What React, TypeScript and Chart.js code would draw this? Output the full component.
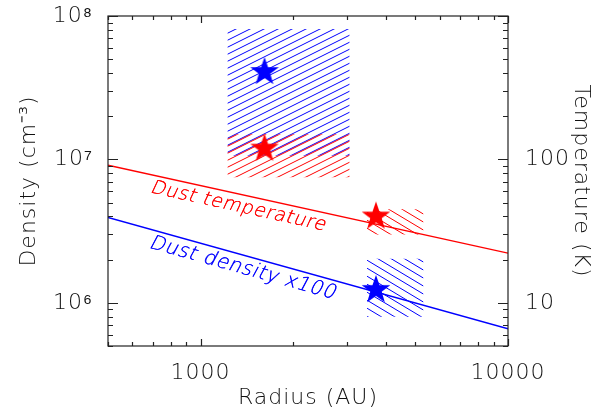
import React, { useEffect, useRef } from 'react';
import { Chart, registerables } from 'chart.js';

Chart.register(...registerables);

// ---- data ----
const lineRadius = [500, 10000];
const dustTemperature = [91, 22.2];
const dustDensityX100 = [3.94e6, 0.66e6];

const starRadius = [1615, 3720];
const starDensity = [4.07e7, 1.23e6];
const starTemperature = [119, 40];

const boxRadiusLow = [1225, 3480];
const boxRadiusHigh = [3050, 5300];
const boxDensityLow = [1.06e7, 0.8e6];
const boxDensityHigh = [8.1e7, 2.03e6];
const boxTemperatureLow = [75, 30];
const boxTemperatureHigh = [150, 45];

const xTickValues = [1000, 10000];
const densityTickValues = [1e6, 1e7, 1e8];
const densityTickLabels = ['10⁶', '10⁷', '10⁸'];
const temperatureTickValues = [10, 100];
const temperatureTickLabels = ['10', '100'];

const lineLabels = ['Dust temperature', 'Dust density x100'];
const lineLabelRadius = [720, 720];

const RED = 'rgb(255,0,0)';
const BLUE = 'rgb(0,0,255)';
const TEXT = '#111';
const FAMILY = "'DejaVu Sans', 'Liberation Sans', sans-serif";
const AXIS_FONT = { family: FAMILY, size: 22, weight: '200' as any };

function makeStar(color: string, R: number) {
  const c = document.createElement('canvas');
  const s = Math.ceil(R * 2 + 2);
  c.width = s;
  c.height = s;
  const g = c.getContext('2d')!;
  g.fillStyle = color;
  g.beginPath();
  const cx = s / 2;
  const cy = s / 2;
  const r = R * 0.4;
  for (let i = 0; i < 10; i++) {
    const rad = i % 2 === 0 ? R : r;
    const a = -Math.PI / 2 + (i * Math.PI) / 5;
    const px = cx + rad * Math.cos(a);
    const py = cy + rad * Math.sin(a);
    if (i === 0) g.moveTo(px, py);
    else g.lineTo(px, py);
  }
  g.closePath();
  g.fill();
  return c;
}

function hatch(
  ctx: CanvasRenderingContext2D,
  x0: number, y0: number, x1: number, y1: number,
  color: string, slope: number, spacing: number, offset: number
) {
  const left = Math.min(x0, x1), right = Math.max(x0, x1);
  const top = Math.min(y0, y1), bottom = Math.max(y0, y1);
  ctx.save();
  ctx.beginPath();
  ctx.rect(left, top, right - left, bottom - top);
  ctx.clip();
  ctx.strokeStyle = color;
  ctx.lineWidth = 1;
  const cs = [top + slope * left, top + slope * right, bottom + slope * left, bottom + slope * right];
  const cmin = Math.min(...cs), cmax = Math.max(...cs);
  ctx.beginPath();
  for (let k = Math.floor((cmin - offset) / spacing) - 1; k <= Math.ceil((cmax - offset) / spacing) + 1; k++) {
    const c = k * spacing + offset;
    ctx.moveTo(left - 2, c - slope * (left - 2));
    ctx.lineTo(right + 2, c - slope * (right + 2));
  }
  ctx.stroke();
  ctx.restore();
}

function logMinorValues(min: number, max: number) {
  const out: number[] = [];
  for (let e = Math.floor(Math.log10(min)); e <= Math.ceil(Math.log10(max)); e++) {
    for (let m = 1; m <= 9; m++) {
      const v = m * Math.pow(10, e);
      if (v >= min * 0.999 && v <= max * 1.001) out.push(v);
    }
  }
  return out;
}

const decorPlugin = {
  id: 'decor',
  beforeDraw(chart: any) {
    chart.ctx.letterSpacing = '1px';
  },
  beforeDatasetsDraw(chart: any) {
    const ctx = chart.ctx as CanvasRenderingContext2D;
    const xs = chart.scales.x, yd = chart.scales.yD, yt = chart.scales.yT;
    hatch(ctx, xs.getPixelForValue(boxRadiusLow[0]), yd.getPixelForValue(boxDensityLow[0]),
      xs.getPixelForValue(boxRadiusHigh[0]), yd.getPixelForValue(boxDensityHigh[0]), BLUE, 0.5, 7, 0);
    hatch(ctx, xs.getPixelForValue(boxRadiusLow[0]), yt.getPixelForValue(boxTemperatureLow[0]),
      xs.getPixelForValue(boxRadiusHigh[0]), yt.getPixelForValue(boxTemperatureHigh[0]), RED, 0.5, 7, 1);
    hatch(ctx, xs.getPixelForValue(boxRadiusLow[1]), yd.getPixelForValue(boxDensityLow[1]),
      xs.getPixelForValue(boxRadiusHigh[1]), yd.getPixelForValue(boxDensityHigh[1]), BLUE, -0.6, 8, 0);
    hatch(ctx, xs.getPixelForValue(boxRadiusLow[1]), yt.getPixelForValue(boxTemperatureLow[1]),
      xs.getPixelForValue(boxRadiusHigh[1]), yt.getPixelForValue(boxTemperatureHigh[1]), RED, -0.6, 8, 0);
  },
  afterDatasetsDraw(chart: any) {
    const ctx = chart.ctx as CanvasRenderingContext2D;
    const xs = chart.scales.x, yd = chart.scales.yD, yt = chart.scales.yT;
    const specs = [
      { scale: yt, vals: dustTemperature, color: RED, size: 19 },
      { scale: yd, vals: dustDensityX100, color: BLUE, size: 20 },
    ];
    specs.forEach((s, i) => {
      const xa = xs.getPixelForValue(lineRadius[0]);
      const ya = s.scale.getPixelForValue(s.vals[0]);
      const xb = xs.getPixelForValue(lineRadius[1]);
      const yb = s.scale.getPixelForValue(s.vals[1]);
      const ang = Math.atan2(yb - ya, xb - xa);
      const px = xs.getPixelForValue(lineLabelRadius[i]);
      const t = (px - xa) / (xb - xa);
      const py = ya + t * (yb - ya);
      ctx.save();
      ctx.letterSpacing = '0.6px';
      ctx.translate(px, py);
      ctx.rotate(ang);
      ctx.transform(1, 0, -0.22, 1, 0, 0);
      ctx.font = `200 ${s.size}px ${FAMILY}`;
      ctx.fillStyle = s.color;
      ctx.textAlign = 'left';
      ctx.textBaseline = 'top';
      ctx.fillText(lineLabels[i], 0, 3);
      ctx.fillText(lineLabels[i], 0.3, 3);
      ctx.restore();
    });
  },
  afterDraw(chart: any) {
    const ctx = chart.ctx as CanvasRenderingContext2D;
    const { left, right, top, bottom } = chart.chartArea;
    const xs = chart.scales.x, yd = chart.scales.yD, yt = chart.scales.yT;
    ctx.save();
    ctx.letterSpacing = '0px';
    ctx.strokeStyle = '#222';
    ctx.lineWidth = 1.2;
    ctx.strokeRect(left, top, right - left, bottom - top);
    ctx.beginPath();
    const isMajor = (v: number) => Math.abs(Math.log10(v) - Math.round(Math.log10(v))) < 1e-6;
    logMinorValues(xs.min, xs.max).forEach((v) => {
      const p = Math.round(xs.getPixelForValue(v)) + 0.5;
      const len = isMajor(v) ? 7 : 4;
      ctx.moveTo(p, bottom); ctx.lineTo(p, bottom - len);
      ctx.moveTo(p, top); ctx.lineTo(p, top + len);
    });
    logMinorValues(yd.min, yd.max).forEach((v) => {
      const p = Math.round(yd.getPixelForValue(v)) + 0.5;
      const len = isMajor(v) ? 10 : 5;
      ctx.moveTo(left, p); ctx.lineTo(left + len, p);
    });
    logMinorValues(yt.min, yt.max).forEach((v) => {
      const p = Math.round(yt.getPixelForValue(v)) + 0.5;
      const len = isMajor(v) ? 10 : 5;
      ctx.moveTo(right, p); ctx.lineTo(right - len, p);
    });
    ctx.stroke();
    ctx.restore();
    ctx.letterSpacing = '0px';
  },
};

function labelFor(values: number[], labels: string[], v: number) {
  const i = values.findIndex((x) => Math.abs(x - v) / x < 1e-6);
  return i >= 0 ? labels[i] : '';
}

export default function App() {
  const ref = useRef<HTMLCanvasElement | null>(null);
  useEffect(() => {
    if (!ref.current) return;
    const blueStar = makeStar(BLUE, 15);
    const redStar = makeStar(RED, 15);
    const chart = new Chart(ref.current, {
      type: 'line',
      data: {
        datasets: [
          {
            label: 'Density stars',
            data: starRadius.map((r, i) => ({ x: r, y: starDensity[i] })),
            yAxisID: 'yD',
            showLine: false,
            pointStyle: blueStar as any,
            pointRadius: 15,
            borderColor: BLUE,
            backgroundColor: BLUE,
          },
          {
            label: 'Temperature stars',
            data: starRadius.map((r, i) => ({ x: r, y: starTemperature[i] })),
            yAxisID: 'yT',
            showLine: false,
            pointStyle: redStar as any,
            pointRadius: 15,
            borderColor: RED,
            backgroundColor: RED,
          },
          {
            label: 'Dust temperature',
            data: lineRadius.map((r, i) => ({ x: r, y: dustTemperature[i] })),
            yAxisID: 'yT',
            borderColor: RED,
            borderWidth: 1.4,
            pointRadius: 0,
            tension: 0,
          },
          {
            label: 'Dust density x100',
            data: lineRadius.map((r, i) => ({ x: r, y: dustDensityX100[i] })),
            yAxisID: 'yD',
            borderColor: BLUE,
            borderWidth: 1.4,
            pointRadius: 0,
            tension: 0,
          },
        ],
      },
      options: {
        responsive: false,
        animation: false,
        events: [],
        layout: { padding: { top: 12, left: 0, right: 0, bottom: 0 } },
        plugins: { legend: { display: false }, tooltip: { enabled: false } },
        scales: {
          x: {
            type: 'logarithmic',
            position: 'bottom',
            min: 500,
            max: 10000,
            grid: { display: false },
            border: { display: false },
            afterBuildTicks: (s: any) => { s.ticks = xTickValues.map((v) => ({ value: v })); },
            afterFit: (s: any) => { s.height = 68; s.paddingLeft = 0; s.paddingRight = 0; },
            ticks: {
              autoSkip: false, maxRotation: 0, minRotation: 0, padding: 6,
              color: TEXT, font: AXIS_FONT,
              callback: (v: any) => String(v),
            },
            title: { display: true, text: 'Radius (AU)', color: TEXT, font: AXIS_FONT, padding: { top: 0, bottom: 3 } },
          },
          yD: {
            type: 'logarithmic',
            position: 'left',
            min: 5e5,
            max: 1e8,
            grid: { display: false },
            border: { display: false },
            afterBuildTicks: (s: any) => { s.ticks = densityTickValues.map((v) => ({ value: v })); },
            afterFit: (s: any) => { s.width = 108; s.paddingTop = 0; s.paddingBottom = 0; },
            ticks: {
              autoSkip: false, padding: 7, color: TEXT, font: AXIS_FONT,
              callback: (v: any) => labelFor(densityTickValues, densityTickLabels, Number(v)),
            },
            title: { display: true, text: 'Density (cm⁻³)', color: TEXT, font: AXIS_FONT, padding: { top: 16, bottom: 0 } },
          },
          yT: {
            type: 'logarithmic',
            position: 'right',
            min: 5,
            max: 1000,
            grid: { display: false },
            border: { display: false },
            afterBuildTicks: (s: any) => { s.ticks = temperatureTickValues.map((v) => ({ value: v })); },
            afterFit: (s: any) => { s.width = 95; s.paddingTop = 0; s.paddingBottom = 0; },
            ticks: {
              autoSkip: false, padding: 9, color: TEXT, font: AXIS_FONT,
              callback: (v: any) => labelFor(temperatureTickValues, temperatureTickLabels, Number(v)),
            },
            title: { display: true, text: 'Temperature (K)', color: TEXT, font: AXIS_FONT, padding: { top: 9, bottom: 0 } },
          },
        },
      } as any,
      plugins: [decorPlugin],
    });
    return () => chart.destroy();
  }, []);
  return (
    <div style={{ position: 'absolute', left: 0, top: 0, width: 603, height: 414, background: '#fff' }}>
      <canvas ref={ref} width={603} height={414} style={{ display: 'block' }} />
    </div>
  );
}
